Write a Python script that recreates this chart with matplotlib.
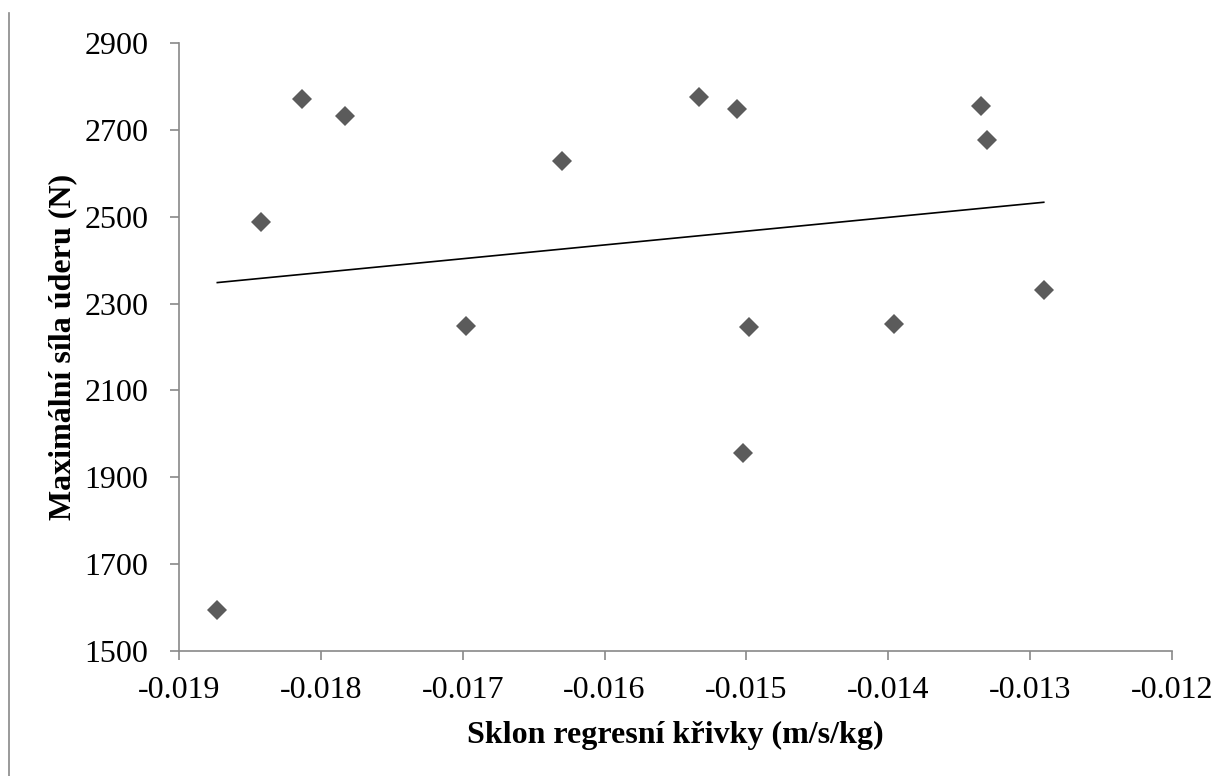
import numpy as np
import matplotlib
matplotlib.use("Agg")
import matplotlib.pyplot as plt
from matplotlib.lines import Line2D

# data
sklon = [-0.01873, -0.01842, -0.018135, -0.01783, -0.016975, -0.01630,
         -0.015333, -0.015068, -0.015025, -0.014983, -0.013961,
         -0.013348, -0.013306, -0.012904]
sila = [1594, 2489, 2772, 2732, 2248, 2628,
        2777, 2748, 1956, 2247, 2254,
        2755, 2678, 2332]

x_ticks = [-0.019, -0.018, -0.017, -0.016, -0.015, -0.014, -0.013, -0.012]
y_ticks = [1500, 1700, 1900, 2100, 2300, 2500, 2700, 2900]

plt.rcParams['font.family'] = ['Liberation Serif', 'DejaVu Serif']

fig = plt.figure(figsize=(12.32, 7.76), dpi=100)
ax = fig.add_axes([0.1453, 0.1615, 0.806, 0.7827])

gray = '#898989'
ax.plot(sklon, sila, linestyle='none', marker='D', markersize=9.8,
        color='#5b5b5b', markeredgewidth=0, zorder=3)

# linear trendline over the data range
k, q = np.polyfit(sklon, sila, 1)
xs = np.array([min(sklon), max(sklon)])
ax.plot(xs, k * xs + q, color='black', linewidth=1.2, zorder=2)

ax.set_xlim(-0.019, -0.012)
ax.set_ylim(1500, 2900)
ax.set_xticks(x_ticks)
ax.set_xticklabels([f"{t:.3f}" for t in x_ticks])
ax.set_yticks(y_ticks)
ax.set_yticklabels([str(t) for t in y_ticks])

for s in ['top', 'right']:
    ax.spines[s].set_visible(False)
for s in ['left', 'bottom']:
    ax.spines[s].set_color(gray)
    ax.spines[s].set_linewidth(1.2)
ax.tick_params(direction='out', length=6.5, width=1.2, color=gray,
               labelsize=23)
ax.tick_params(axis='x', pad=12)
ax.tick_params(axis='y', pad=15.5)

ax.set_xlabel('Sklon regresní křivky (m/s/kg)', fontsize=23,
              fontweight='bold', labelpad=11)
ax.set_ylabel('Maximální síla úderu (N)', fontsize=23,
              fontweight='bold', labelpad=5)

# border line on the left edge of the chart area
fig.add_artist(Line2D([9 / 1232, 9 / 1232], [0, 1 - 13 / 776],
                      transform=fig.transFigure, color=gray, linewidth=1.2))

fig.savefig('out.png', dpi=100)
